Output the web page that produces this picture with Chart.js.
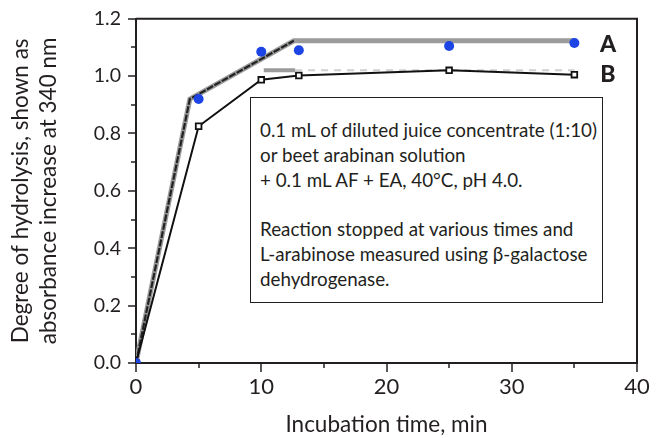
<!DOCTYPE html>
<html>
<head>
<meta charset="utf-8">
<script src="https://cdn.jsdelivr.net/npm/chart.js@4.4.1/dist/chart.umd.min.js"></script>
<style>
  body { margin: 0; background: #fff; }
  #wrap { position: relative; width: 659px; height: 438px; font-family: Lato, "Open Sans", sans-serif; color: #231f20; }
  #note {
    position: absolute; left: 250px; top: 97px; width: 353px; height: 206px;
    box-sizing: border-box; border: 1.5px solid #231f20; background: #fff;
    padding: 20px 0 0 9px; font-size: 18.8px; line-height: 24.8px; white-space: nowrap;
  }
  .lbl { position: absolute; font-weight: 900; font-size: 23px; transform: translate(-50%, -50%); }
</style>
</head>
<body>
<div id="wrap">
  <canvas id="myChart" width="659" height="438"></canvas>
  <div id="note">
    0.1 mL of diluted juice concentrate (1:10)<br>
    or beet arabinan solution<br>
    + 0.1 mL AF + EA, 40°C, pH 4.0.<br>
    <br>
    Reaction stopped at various times and<br>
    L-arabinose measured using β-galactose<br>
    dehydrogenase.
  </div>
  <div class="lbl" style="left:608px; top:43px;">A</div>
  <div class="lbl" style="left:608px; top:73px;">B</div>
</div>
<script>
// measured points
var timeA = [0, 5, 10, 13, 25, 35];
var valuesA = [0, 0.92, 1.085, 1.09, 1.105, 1.115];
var timeB = [0, 5, 10, 13, 25, 35];
var valuesB = [0, 0.825, 0.987, 1.002, 1.02, 1.005];

// fitted lines
var fitAX = [0, 4.3, 12.6, 35];
var fitAY = [0, 0.92, 1.123, 1.123];
var fitBX = [10.2, 12.7, 35];
var fitBY = [1.02, 1.02, 1.02];

// axis ticks
var xTicks = [0, 5, 10, 15, 20, 25, 30, 35, 40];
var yTicks = [0, 0.1, 0.2, 0.3, 0.4, 0.5, 0.6, 0.7, 0.8, 0.9, 1.0, 1.1, 1.2];

function pts(xs, ys) {
    return xs.map(function (x, i) { return { x: x, y: ys[i] }; });
}

var ink = '#231f20';

// frame + tick marks (major longer than minor)
var framePlugin = {
    id: 'frame',
    afterDraw: function (chart) {
        var ctx = chart.ctx, a = chart.chartArea;
        var xs = chart.scales.x, ys = chart.scales.y;
        ctx.save();
        ctx.strokeStyle = ink;
        ctx.lineWidth = 2;
        ctx.beginPath();
        ctx.moveTo(a.left, a.top);
        ctx.lineTo(a.right, a.top);
        ctx.lineTo(a.right, a.bottom);
        ctx.stroke();
        ctx.lineWidth = 1.5;
        xTicks.forEach(function (v) {
            var px = Math.round(xs.getPixelForValue(v));
            var len = v % 10 === 0 ? 9 : 5;
            ctx.beginPath();
            ctx.moveTo(px, a.bottom);
            ctx.lineTo(px, a.bottom + len);
            ctx.stroke();
        });
        yTicks.forEach(function (v) {
            var py = Math.round(ys.getPixelForValue(v));
            var len = Math.round(v * 10) % 2 === 0 ? 8 : 5;
            ctx.beginPath();
            ctx.moveTo(a.left, py);
            ctx.lineTo(a.left - len, py);
            ctx.stroke();
        });
        ctx.restore();
    }
};

new Chart('myChart', {
    type: 'line',
    data: {
        datasets: [
            {
                data: pts(timeA, valuesA),
                showLine: false,
                pointRadius: 5,
                pointBackgroundColor: '#1d44e4',
                pointBorderColor: '#1d44e4',
                pointBorderWidth: 0
            },
            {
                data: pts(timeB, valuesB),
                borderColor: '#111',
                borderWidth: 2,
                pointStyle: 'rect',
                pointRadius: 4,
                pointBackgroundColor: '#fff',
                pointBorderColor: '#111',
                pointBorderWidth: 1.8
            },
            {
                data: pts(fitAX.slice(0, 3), fitAY.slice(0, 3)),
                borderColor: '#222',
                borderWidth: 2.2,
                borderDash: [7, 1.5],
                pointRadius: 0
            },
            {
                data: pts(fitAX, fitAY),
                borderColor: '#9b9b9b',
                borderWidth: 5,
                pointRadius: 0
            },
            {
                data: pts(fitBX.slice(0, 2), fitBY.slice(0, 2)),
                borderColor: '#9b9b9b',
                borderWidth: 4,
                pointRadius: 0
            },
            {
                data: pts(fitBX.slice(1), fitBY.slice(1)),
                borderColor: '#cfcfcf',
                borderWidth: 2,
                borderDash: [7, 6],
                pointRadius: 0
            }
        ]
    },
    options: {
        responsive: false,
        devicePixelRatio: 1,
        animation: false,
        layout: { padding: { top: 18, right: 22, left: 0, bottom: 0 } },
        plugins: { legend: { display: false }, tooltip: { enabled: false } },
        elements: { line: { tension: 0 } },
        scales: {
            x: {
                type: 'linear',
                min: 0,
                max: 40,
                afterFit: function (s) { s.height = 75; },
                grid: { display: false },
                border: { color: ink, width: 2 },
                ticks: {
                    stepSize: 5,
                    autoSkip: false,
                    maxRotation: 0,
                    padding: 3,
                    color: ink,
                    font: { family: 'Lato', size: 22 },
                    callback: function (v) { return v % 10 === 0 ? String(v) : ''; }
                },
                title: {
                    display: true,
                    text: 'Incubation time, min',
                    color: ink,
                    font: { family: 'Lato', size: 22.5 },
                    padding: { top: 0, bottom: 0 }
                }
            },
            y: {
                min: 0,
                max: 1.2,
                afterFit: function (s) { s.width = 136; },
                grid: { display: false },
                border: { color: ink, width: 2 },
                ticks: {
                    stepSize: 0.1,
                    autoSkip: false,
                    padding: 7,
                    color: ink,
                    font: { family: 'Lato', size: 19.5 },
                    callback: function (v) { return Math.round(v * 10) % 2 === 0 ? v.toFixed(1) : ''; }
                },
                title: {
                    display: true,
                    text: ['Degree of hydrolysis, shown as', 'absorbance increase at 340 nm'],
                    color: ink,
                    font: { family: 'Lato', size: 22.5, lineHeight: 1.25 },
                    padding: { top: 7, bottom: 0 }
                }
            }
        }
    },
    plugins: [framePlugin]
});
</script>
</body>
</html>
